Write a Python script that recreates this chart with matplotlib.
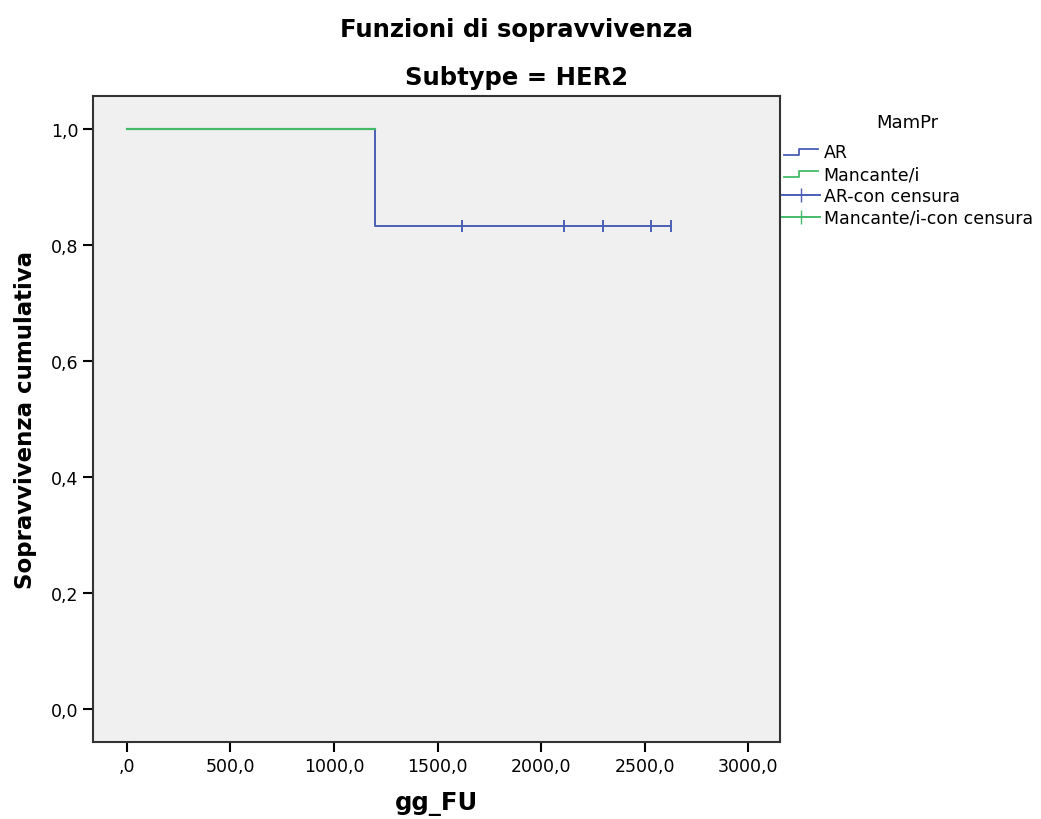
import matplotlib
matplotlib.use('Agg')
import matplotlib.pyplot as plt
from matplotlib.lines import Line2D
from matplotlib.legend_handler import HandlerBase
from matplotlib.ticker import FuncFormatter

# Kaplan-Meier steps
ar_times = [0, 1200, 1200, 2627]
ar_surv = [1.0, 1.0, 0.833, 0.833]
ar_censor_t = [1616, 2109, 2298, 2530, 2627]
ar_censor_s = [0.833] * len(ar_censor_t)

miss_times = [0, 1200]
miss_surv = [1.0, 1.0]

x_ticks = [0, 500, 1000, 1500, 2000, 2500, 3000]
y_ticks = [0.0, 0.2, 0.4, 0.6, 0.8, 1.0]

blue = '#4a5fb5'
green = '#45bb6a'


class StepHandler(HandlerBase):
    # little step glyph like the SPSS legend
    def create_artists(self, legend, orig, xd, yd, w, h, fontsize, trans):
        xs = [xd + w * 0.05, xd + w * 0.45, xd + w * 0.45, xd + w * 0.95]
        ys = [yd + h * 0.2, yd + h * 0.2, yd + h * 0.7, yd + h * 0.7]
        ln = Line2D(xs, ys, color=orig.get_color(), lw=1.3, transform=trans)
        return [ln]


fig = plt.figure(figsize=(10.41, 8.2), dpi=100)
ax = fig.add_axes([93 / 1041, 1 - 743 / 820, (780 - 93) / 1041, (743 - 97) / 820])
ax.set_facecolor('#f0f0f0')

ax.plot(ar_times, ar_surv, color=blue, lw=1.4)
ax.plot(ar_censor_t, ar_censor_s, ls='none', marker='|', ms=9, mew=1.4, color=blue)
ax.plot(miss_times, miss_surv, color=green, lw=1.6)

ax.set_xlim(-164, 3154)
ax.set_ylim(-0.057, 1.057)
ax.set_xticks(x_ticks)
ax.set_yticks(y_ticks)


def it_fmt(v, pos):
    s = f'{v:.1f}'.replace('.', ',')
    if s.startswith('0,'):
        s = s[1:]
    return s


ax.xaxis.set_major_formatter(FuncFormatter(it_fmt))
ax.yaxis.set_major_formatter(FuncFormatter(lambda v, p: f'{v:.1f}'.replace('.', ',')))
ax.tick_params(axis='both', labelsize=12.5, length=7, width=1.5, direction='out')
for s in ax.spines.values():
    s.set_linewidth(1.5)
    s.set_color('#333333')

ax.set_xlabel('gg_FU', fontsize=17.5, fontweight='bold', labelpad=12)
ax.set_ylabel('Sopravvivenza cumulativa', fontsize=16.5, fontweight='bold', labelpad=10)

fig.text(517 / 1041, 1 - 30 / 820, 'Funzioni di sopravvivenza', ha='center', va='center',
         fontsize=17.5, fontweight='bold')
fig.text(517 / 1041, 1 - 78 / 820, 'Subtype = HER2', ha='center', va='center',
         fontsize=17.5, fontweight='bold')

step_blue = Line2D([], [], color=blue)
step_green = Line2D([], [], color=green)
handles = [
    step_blue,
    step_green,
    Line2D([], [], color=blue, lw=1.4, marker='|', ms=10),
    Line2D([], [], color=green, lw=1.4, marker='|', ms=10),
]
labels = ['AR', 'Mancante/i', 'AR-con censura', 'Mancante/i-con censura']
leg = fig.legend(handles, labels, title='MamPr', loc='upper left',
                 bbox_to_anchor=(782 / 1041, 1 - 114 / 820), frameon=False,
                 fontsize=12.5, title_fontsize=13, handlelength=2.2, handletextpad=0.2,
                 labelspacing=0.22, borderaxespad=0, borderpad=0,
                 handler_map={step_blue: StepHandler(), step_green: StepHandler()})
leg._legend_box.sep = 9

fig.savefig('out.png', dpi=100)
